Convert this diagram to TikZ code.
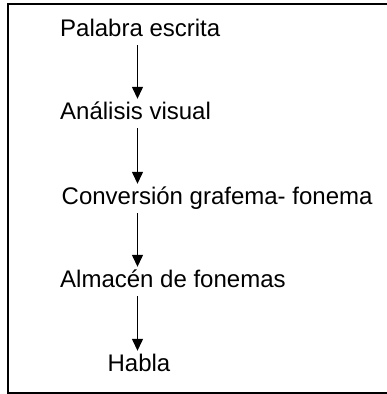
\documentclass[tikz,border=0pt]{standalone}
\usepackage{fontspec}
\setmainfont{Liberation Sans}
\usetikzlibrary{arrows.meta}

\tikzset{
  paso/.style={anchor=base west, inner sep=0pt, text height=20pt, text depth=9pt,
    font=\fontsize{24}{28}\selectfont},
  flecha/.style={line width=1.3pt, -{Triangle[width=11pt,length=12pt]}}
}

\begin{document}
\begin{tikzpicture}[x=1pt, y=-1pt]
  \useasboundingbox (0,0) rectangle (387,394);
  \draw[line width=2pt] (395,4.3) -- (7.5,4.3) -- (7.5,392.5) -- (395,392.5);
  \coordinate (eje) at (137.5,0);
  \node[paso] (palabra) at (60,36) {Palabra escrita};
  \node[paso] (analisis) at (60,119) {Análisis visual};
  \node[paso] (conversion) at (61.5,204) {Conversión grafema- fonema};
  \node[paso] (almacen) at (60,287) {Almacén de fonemas};
  \node[paso, anchor=base] (habla) at (139,371) {Habla};
  \draw[flecha] (palabra.south -| eje) -- (analisis.north -| eje);
  \draw[flecha] (analisis.south -| eje) -- (conversion.north -| eje);
  \draw[flecha] (conversion.south -| eje) -- (almacen.north -| eje);
  \draw[flecha] (almacen.south -| eje) -- (habla.north -| eje);
\end{tikzpicture}
\end{document}
